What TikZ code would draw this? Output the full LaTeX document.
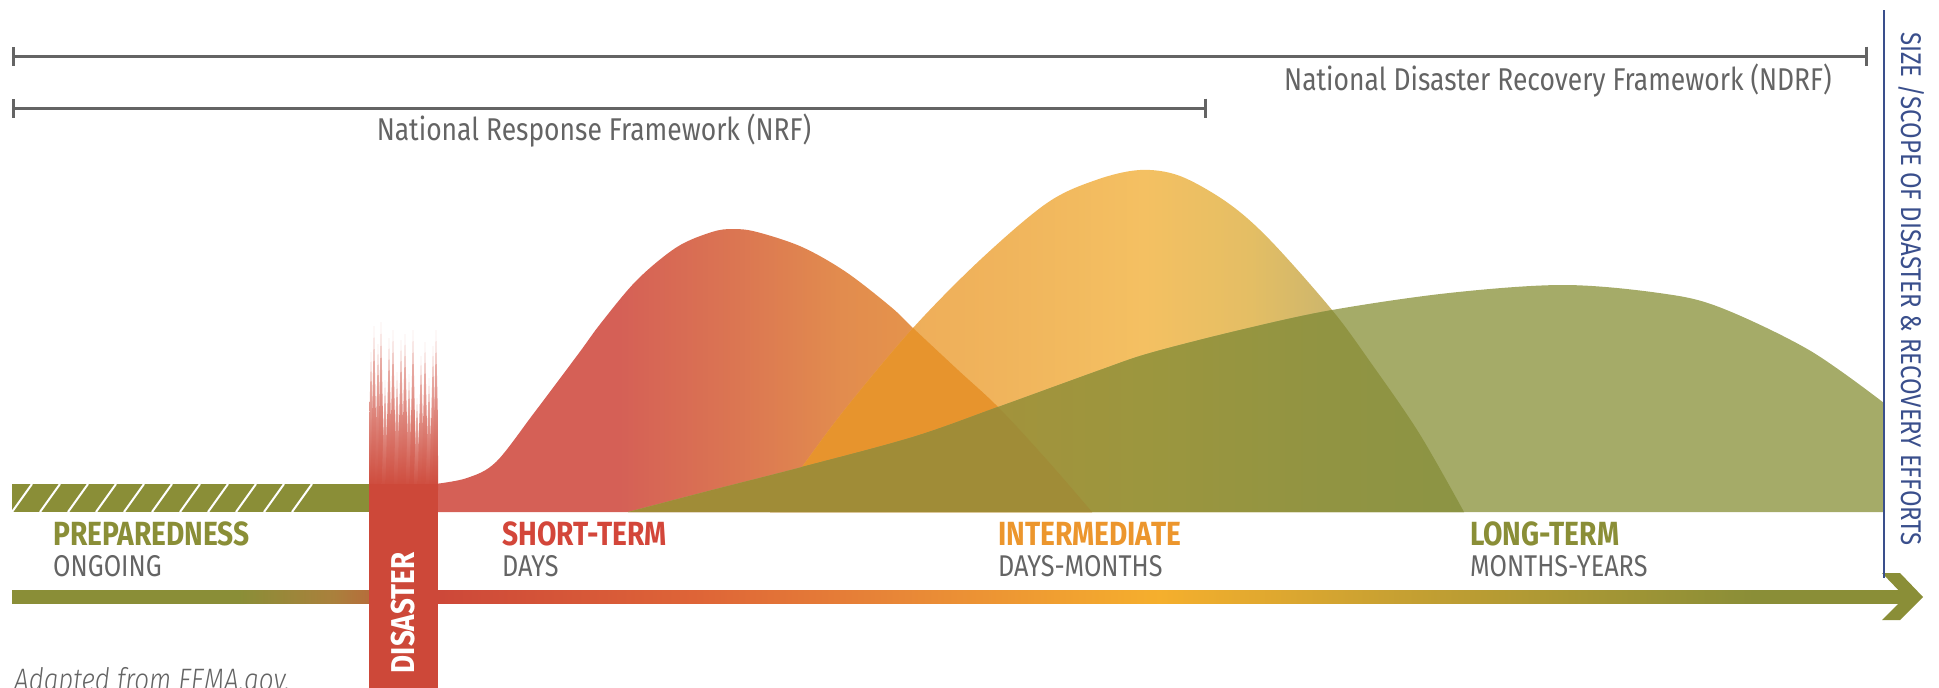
\documentclass[tikz,border=0pt]{standalone}
\usepackage{fontspec}
\setmainfont{Fira Sans}[FakeStretch=0.84]
\newfontfamily\lightfont{Fira Sans Light}[FakeStretch=0.84]
\usetikzlibrary{arrows.meta}

\definecolor{framegray}{RGB}{100,100,100}
\definecolor{scopeblue}{RGB}{58,79,140}
\definecolor{prepgreen}{RGB}{138,142,55}
\definecolor{disasterred}{RGB}{205,72,57}
\definecolor{shortred}{RGB}{211,70,58}
\definecolor{midorange}{RGB}{236,150,45}
% hump fills
\definecolor{shortA}{RGB}{213,96,86}
\definecolor{shortB}{RGB}{219,118,82}
\definecolor{shortC}{RGB}{226,140,78}
\definecolor{shortD}{RGB}{232,156,72}
\definecolor{midA}{RGB}{236,166,86}
\definecolor{midB}{RGB}{240,180,92}
\definecolor{midC}{RGB}{244,192,98}
\definecolor{midD}{RGB}{228,190,100}
\definecolor{midE}{RGB}{205,182,108}
\definecolor{midF}{RGB}{185,178,108}
\definecolor{overlaporange}{RGB}{231,148,45}
\definecolor{longgreen}{RGB}{165,171,104}
\definecolor{olivedark}{RGB}{160,140,55}
\definecolor{oliveB}{RGB}{162,147,60}
\definecolor{oliveC}{RGB}{156,150,62}
\definecolor{oliveD}{RGB}{145,148,66}
\definecolor{oliveE}{RGB}{140,148,68}
% timeline arrow
\definecolor{rustbrown}{RGB}{170,128,60}
\definecolor{tlredorange}{RGB}{222,100,55}
\definecolor{tlorange}{RGB}{232,135,55}
\definecolor{tlyellow}{RGB}{245,175,45}
\definecolor{tlmustard}{RGB}{198,160,50}

\pgfdeclarehorizontalshading{shortshade}{100bp}{color(0bp)=(shortA); color(39bp)=(shortA);
  color(48bp)=(shortB); color(56bp)=(shortC); color(68bp)=(shortD); color(100bp)=(shortD)}
\pgfdeclarehorizontalshading{midshade}{100bp}{color(0bp)=(midA); color(27bp)=(midA);
  color(41.6bp)=(midB); color(52bp)=(midC); color(59.6bp)=(midD); color(65.3bp)=(midE);
  color(71.8bp)=(midF); color(100bp)=(midF)}
\pgfdeclarehorizontalshading{olivemid}{100bp}{color(0bp)=(olivedark); color(25bp)=(olivedark);
  color(41.6bp)=(oliveB); color(52bp)=(oliveC); color(65bp)=(oliveD); color(75bp)=(oliveE);
  color(100bp)=(oliveE)}
\pgfdeclarehorizontalshading{timeline}{100bp}{color(0bp)=(prepgreen); color(31bp)=(prepgreen);
  color(33.5bp)=(rustbrown); color(36.3bp)=(disasterred); color(43bp)=(tlredorange);
  color(48.5bp)=(tlorange); color(55.3bp)=(tlyellow); color(61.7bp)=(tlmustard);
  color(71bp)=(prepgreen); color(100bp)=(prepgreen)}

% outlines of the three effort curves
\newcommand{\shorthump}{(435,512) -- plot[smooth, tension=0.55] coordinates {(435,484) (467,478)
  (496,462) (534,413) (579,353) (601,323) (637,280) (677,247) (712,232) (733,229) (757,232)
  (802,247) (846,272) (891,307) (913,328) (958,370) (998,407) (1047,460) (1092,512)} -- cycle}
\newcommand{\midhump}{(770,512) -- plot[smooth, tension=0.55] coordinates {(770,512) (802,467)
  (846,408) (913,328) (980,260) (1047,203) (1096,180) (1140,170) (1180,176) (1228,203)
  (1270,240) (1332,310) (1371,363) (1419,433) (1464,512)} -- cycle}
\newcommand{\longhump}{(628,512) -- plot[smooth, tension=0.55] coordinates {(628,512) (712,490)
  (802,467) (913,437) (998,407) (1100,370) (1150,353) (1240,330) (1332,310) (1449,293)
  (1563,285) (1659,293) (1719,307) (1809,350) (1884,403)} -- (1884,512) -- cycle}

\begin{document}
\begin{tikzpicture}[
    x=1pt, y=-1pt,
    span/.style={draw=framegray, line width=3pt, {Bar[width=19pt]}-{Bar[width=19pt]}},
    framelbl/.style={anchor=base, inner sep=0pt, text=framegray,
                     font=\fontsize{31.5}{36}\selectfont},
    phase/.style={anchor=base west, inner sep=0pt, font=\bfseries\fontsize{33.5}{36}\selectfont},
    period/.style={anchor=base west, inner sep=0pt, text=framegray,
                   font=\fontsize{30}{36}\selectfont},
    spike/.style={top color=disasterred!30, bottom color=disasterred}
]
  \useasboundingbox (0,0) rectangle (1939,688);

  % Framework spans
  \coordinate (ndrfL) at (12,56);
  \coordinate (ndrfR) at (1868,56);
  \coordinate (nrfL) at (12,108);
  \coordinate (nrfR) at (1207,108);
  \draw[span] (ndrfL) -- (ndrfR);
  \draw[span] (nrfL) -- (nrfR);
  \node[framelbl] (ndrf) at (1558,90) {National Disaster Recovery Framework (NDRF)};
  \node[framelbl] (nrf) at (594,140) {National Response Framework (NRF)};

  % Effort curves
  \shade[shading=shortshade] \shorthump;
  \shade[shading=midshade] \midhump;
  \begin{scope}
    \clip \shorthump;
    \fill[overlaporange] \midhump;
  \end{scope}
  \fill[longgreen] \longhump;
  \begin{scope}
    \clip \longhump;
    \shade[shading=olivemid] \midhump;
    \fill[olivedark] \shorthump;
  \end{scope}

  % Preparedness band
  \fill[prepgreen] (12,484) rectangle (369,512);
  \begin{scope}
    \clip (12,484) rectangle (369,512);
    \foreach \hx in {12,40,...,292}
      \draw[white, line width=2pt] (\hx,512) -- ++(20,-28);
  \end{scope}

  % Timeline arrow
  \shade[shading=timeline] (12,590) rectangle (1905,603);
  \fill[prepgreen] (1882,573) -- (1900,573) -- (1923,597) -- (1900,620) -- (1882,620)
    -- (1905,597) -- cycle;

  % Disaster bar
  \begin{scope}
    \clip (369,300) rectangle (438,490);
    \foreach \tx/\ty in {371/352, 374/326, 378/344, 381/322, 385/380, 389/338, 393/330,
                         397/372, 401/340, 405/334, 409/374, 413/330, 417/398, 421/356,
                         425/342, 429/378, 433/346, 436/330}
      \shade[spike] (\tx-3.5,490) -- (\tx,\ty) -- (\tx+3.5,490) -- cycle;
  \end{scope}
  \fill[disasterred] (369,484) rectangle (438,688);
  \node[rotate=90, inner sep=0pt, text=white, font=\bfseries\fontsize{33}{36}\selectfont]
    (disaster) at (403.5,613) {DISASTER};

  % Phase labels
  \node[phase, text=prepgreen] (prep) at (53,545) {PREPAREDNESS};
  \node[period] (prepT) at (53,576) {ONGOING};
  \node[phase, text=shortred] (short) at (502,545) {SHORT-TERM};
  \node[period] (shortT) at (502,576) {DAYS};
  \node[phase, text=midorange] (mid) at (998,545) {INTERMEDIATE};
  \node[period] (midT) at (998,576) {DAYS-MONTHS};
  \node[phase, text=prepgreen] (long) at (1470,545) {LONG-TERM};
  \node[period] (longT) at (1470,576) {MONTHS-YEARS};

  % Scope axis
  \coordinate (axisTop) at (1884,10);
  \coordinate (axisBot) at (1884,578);
  \draw[scopeblue, line width=2.5pt] (axisTop) -- (axisBot);
  \node[rotate=-90, inner sep=0pt, text=scopeblue, font=\fontsize{28.5}{32}\selectfont]
    (scope) at (1911,289) {SIZE /SCOPE OF DISASTER \& RECOVERY EFFORTS};

  % Source note
  \node[anchor=base west, inner sep=0pt, text=framegray,
        font=\lightfont\itshape\fontsize{31}{36}\selectfont] (src) at (14,690) {Adapted from FEMA.gov.};
\end{tikzpicture}
\end{document}
